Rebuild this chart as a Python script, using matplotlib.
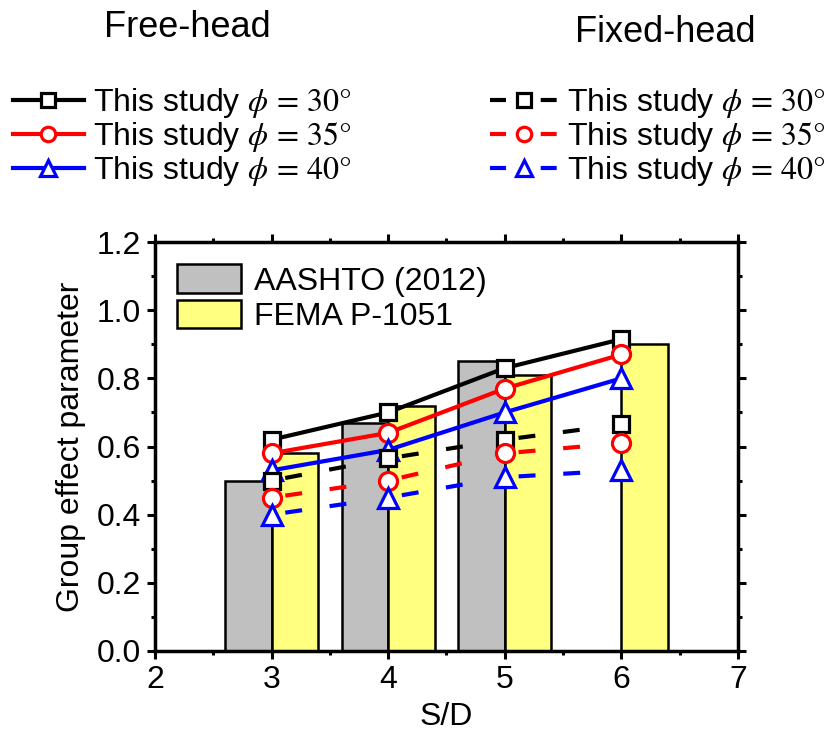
import numpy as np
import matplotlib
matplotlib.use("Agg")
import matplotlib.pyplot as plt
from matplotlib.lines import Line2D
from matplotlib.ticker import MultipleLocator, FormatStrFormatter

plt.rcParams['font.family'] = ['Liberation Sans', 'DejaVu Sans']
plt.rcParams['mathtext.fontset'] = 'stix'
plt.rcParams['lines.scale_dashes'] = False

# data
sd = [3, 4, 5, 6]
aashto_x = [3, 4, 5]
aashto = [0.50, 0.67, 0.85]
fema = [0.58, 0.72, 0.81, 0.90]

free_30 = [0.62, 0.70, 0.83, 0.915]
free_35 = [0.58, 0.64, 0.77, 0.87]
free_40 = [0.53, 0.59, 0.70, 0.80]

fixed_30 = [0.50, 0.565, 0.62, 0.665]
fixed_35 = [0.45, 0.50, 0.58, 0.61]
fixed_40 = [0.40, 0.45, 0.51, 0.53]

phis = [30, 35, 40]
colors = ['black', 'red', 'blue']
markers = ['s', 'o', '^']
msizes = [12, 13, 14]

fs = 23
lw = 3.0
mew = 2.3

fig = plt.figure(figsize=(8.31, 7.33), dpi=100)
ax = fig.add_axes([0.1865, 0.1119, 0.7015, 0.5579])

# bars
ax.bar(np.array(aashto_x) - 0.2, aashto, width=0.4, color='#C0C0C0', edgecolor='black', linewidth=1.8,
       label='AASHTO (2012)', zorder=1)
ax.bar(np.array(sd) + 0.2, fema, width=0.4, color='#FFFF80', edgecolor='black', linewidth=1.8,
       label='FEMA P-1051', zorder=1)

# free-head, solid lines
for yv, c, m, ms in zip([free_30, free_35, free_40], colors, markers, msizes):
    ax.plot(sd, yv, color=c, lw=lw, marker=m, ms=ms, mfc='white', mec=c, mew=mew, zorder=3)

# fixed-head, dashes restart on every segment
seg_style = (134.4, (12.2, 20, 12.2, 100))
for yv, c, m, ms in zip([fixed_30, fixed_35, fixed_40], colors, markers, msizes):
    for i in range(len(sd) - 1):
        ax.plot(sd[i:i + 2], yv[i:i + 2], color=c, lw=lw, linestyle=seg_style, zorder=3)
    ax.plot(sd, yv, linestyle='none', marker=m, ms=ms, mfc='white', mec=c, mew=mew, zorder=4)

ax.set_xlim(2, 7)
ax.set_ylim(0, 1.2)
ax.xaxis.set_major_locator(MultipleLocator(1))
ax.xaxis.set_minor_locator(MultipleLocator(0.5))
ax.yaxis.set_major_locator(MultipleLocator(0.2))
ax.yaxis.set_minor_locator(MultipleLocator(0.1))
ax.yaxis.set_major_formatter(FormatStrFormatter('%.1f'))
ax.tick_params(which='both', direction='out', top=True, right=True, labelsize=fs, width=2.2)
ax.tick_params(which='major', length=6, pad=4)
ax.tick_params(which='minor', length=3)
for s in ax.spines.values():
    s.set_linewidth(2.5)

ax.set_xlabel('S/D', fontsize=fs, labelpad=5)
ax.set_ylabel('Group effect parameter', fontsize=fs, labelpad=8)

ax.legend(loc='upper left', fontsize=fs, frameon=False, handlelength=2.0, handleheight=1.0,
          handletextpad=0.4, labelspacing=0.1, borderaxespad=0.3)

# top legends
free_handles = [Line2D([0], [0], color=c, lw=lw, marker=m, ms=ms, mfc='white', mec=c, mew=mew)
                for c, m, ms in zip(colors, markers, msizes)]
fixed_handles = [Line2D([0], [0], color=c, lw=lw, linestyle=(0, (11.5, 25)), marker=m, ms=ms,
                        mfc='white', mec=c, mew=mew)
                 for c, m, ms in zip(colors, markers, msizes)]
labels = [r'This study $\phi\,=\,%d°$' % p for p in phis]

fig.legend(free_handles, labels, loc='upper left', bbox_to_anchor=(0.016, 0.882), fontsize=fs,
           frameon=False, handlelength=2.2, handletextpad=0.3, labelspacing=0.0, borderpad=0,
           borderaxespad=0, markerscale=0.8)
fig.legend(fixed_handles, labels, loc='upper left', bbox_to_anchor=(0.590, 0.882), fontsize=fs,
           frameon=False, handlelength=2.1, handletextpad=0.3, labelspacing=0.0, borderpad=0,
           borderaxespad=0, markerscale=0.8)

fig.text(0.225, 0.963, 'Free-head', fontsize=26, ha='center', va='center')
fig.text(0.80, 0.956, 'Fixed-head', fontsize=26, ha='center', va='center')

plt.savefig('out.png', dpi=100)
